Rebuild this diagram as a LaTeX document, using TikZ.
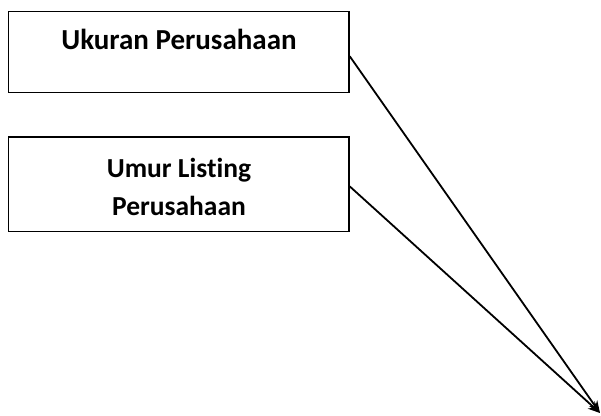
\documentclass[tikz,border=0pt]{standalone}
\usepackage{fontspec}
\setmainfont{Carlito}[Ligatures={NoCommon}]
\usetikzlibrary{arrows.meta}
\begin{document}
\begin{tikzpicture}[x=1pt,y=-1pt,
  box/.style={draw=black,line width=1.4pt,rectangle,inner sep=0pt},
  lbl/.style={align=center,inner sep=0pt},
  conn/.style={draw=black,line width=1.8pt,-{Stealth[length=12pt,width=10pt]}}]
\useasboundingbox (0,0) rectangle (601,415);
\node[box,minimum width=340.3pt,minimum height=81pt] (b1) at (178.85,52.2) {};
\node[box,minimum width=340.3pt,minimum height=94.7pt] (b2) at (178.85,184.35) {};
\node[lbl,anchor=base,font=\fontsize{29}{37.7}\selectfont\bfseries] (t1) at (179,49) {Ukuran Perusahaan};
\node[lbl,anchor=base,font=\fontsize{27.5}{37.7}\selectfont\bfseries] (t2) at (179,215) {Umur Listing\\Perusahaan};
\coordinate (tip) at (600,413);
\draw[conn] (b1.east) ++(0,4) coordinate (s1) -- (tip);
\draw[conn] (b2.east) ++(0,2) coordinate (s2) -- (tip);
\end{tikzpicture}
\end{document}
